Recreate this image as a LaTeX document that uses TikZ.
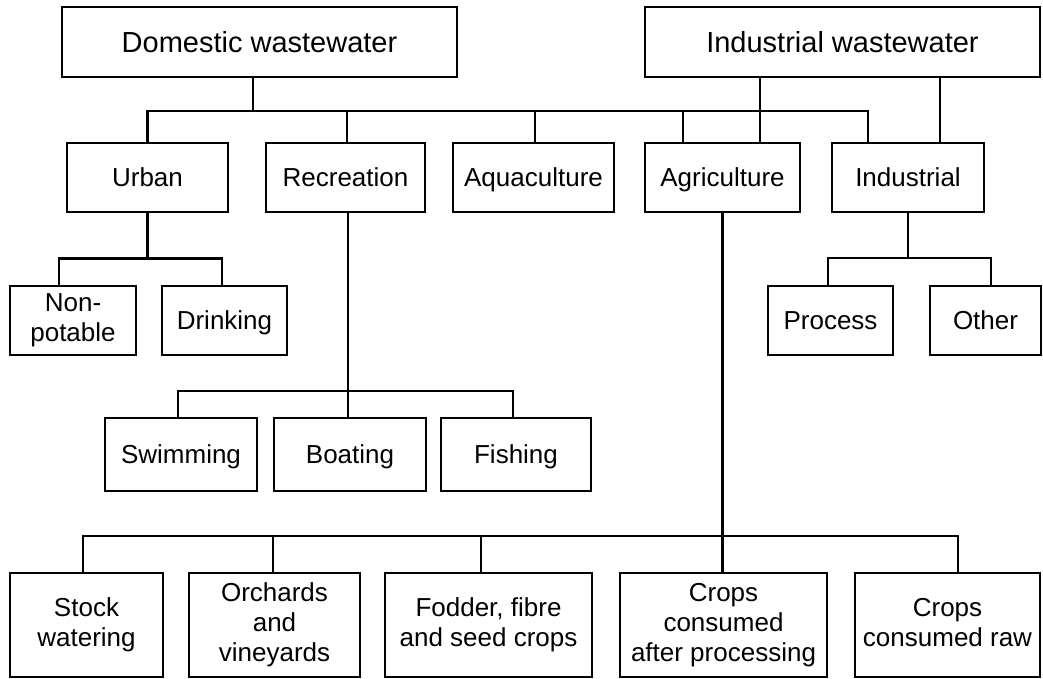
\documentclass[tikz,border=0pt]{standalone}
\usepackage{fontspec}
\setmainfont{Liberation Sans}

\begin{document}
\begin{tikzpicture}[x=1pt,y=-1pt,
    box/.style={draw, line width=2.6pt, align=center, inner sep=0pt,
        font=\fontsize{26}{30}\selectfont,
        execute at begin node={\rule{0pt}{0.92em}},
        execute at end node={\rule[-0.23em]{0pt}{0.23em}}},
    link/.style={line width=2.4pt}]
    % Page area
    \path[use as bounding box, fill=white] (0,0) rectangle (1043,679);

    % Sources
    \node[box, minimum width=395pt, minimum height=70pt,
        font=\fontsize{29}{33}\selectfont] (dom) at (259.5,42) {Domestic wastewater};
    \node[box, minimum width=395pt, minimum height=70pt,
        font=\fontsize{29}{33}\selectfont] (ind) at (842.5,42) {Industrial wastewater};

    % Main uses
    \foreach \n/\x/\w/\t in {urban/147.5/161/Urban, recr/345.5/159/Recreation,
        aqua/533.5/161/Aquaculture, agri/722.5/155/Agriculture, indu/908/152/Industrial}
        \node[box, minimum width=\w pt, minimum height=69pt] (\n) at (\x,177.5) {\t};

    % Urban and industrial uses
    \foreach \n/\x/\w/\t in {nonpot/73/126/{Non-\\potable}, drink/224.5/125/Drinking,
        process/830.5/125/Process, other/985.5/111/Other}
        \node[box, minimum width=\w pt, minimum height=69pt] (\n) at (\x,320.5) {\t};

    % Recreation uses
    \foreach \n/\x/\w/\t in {swim/181/152/Swimming, boat/350/152/Boating, fish/516/150/Fishing}
        \node[box, minimum width=\w pt, minimum height=73pt] (\n) at (\x,454.5) {\t};

    % Agricultural uses
    \foreach \n/\x/\w/\t in {stock/86.5/153/{Stock\\watering},
        orch/274.5/171/{Orchards\\and\\vineyards},
        fodder/488.5/207/{Fodder, fibre\\and seed crops},
        cafter/723.5/207/{Crops\\consumed\\after processing},
        craw/947.5/185/{Crops\\consumed raw}}
        \node[box, minimum width=\w pt, minimum height=104pt] (\n) at (\x,625) {\t};

    % Domestic wastewater to main uses
    \draw[link] ([xshift=-6.5pt]dom.south) -- ++(0,33) coordinate (dbus);
    \draw[link] (urban.north) |- (dbus) -| ([xshift=-40pt]indu.north);
    \foreach \n/\s in {recr/1.5, aqua/1.5, agri/-39.5}
        \draw[link] ([xshift=\s pt]\n.north) -- ([xshift=\s pt]\n.north |- dbus);

    % Industrial wastewater to main uses
    \draw[link] ([xshift=37.5pt]agri.north) -- ([xshift=37.5pt]agri.north |- ind.south);
    \draw[link] ([xshift=32pt]indu.north) -- ([xshift=32pt]indu.north |- ind.south);

    % Urban
    \draw[link] (urban.south) -- ++(0,45) coordinate (ubus);
    \draw[link] ([xshift=-14pt]nonpot.north) |- (ubus) -| ([xshift=-2.5pt]drink.north);

    % Recreation
    \draw[link] ([xshift=2.5pt]recr.south) -- ([xshift=2.5pt]recr.south |- boat.north);
    \draw[link] ([xshift=-3pt]swim.north) -- ++(0,-26) -| ([xshift=-3pt]fish.north);

    % Industrial
    \draw[link] (indu.south) -- ++(0,46);
    \draw[link] ([xshift=-2.5pt]process.north) -- ++(0,-27) -| ([xshift=5.5pt]other.north);

    % Agriculture
    \draw[link] (agri.south) -- (agri.south |- cafter.north);
    \draw[link] ([xshift=-3.5pt]stock.north) -- ++(0,-36) -| ([xshift=10.5pt]craw.north);
    \foreach \n/\s in {orch/-1.5, fodder/-7.5}
        \draw[link] ([xshift=\s pt]\n.north) -- ++(0,-36);
\end{tikzpicture}
\end{document}
